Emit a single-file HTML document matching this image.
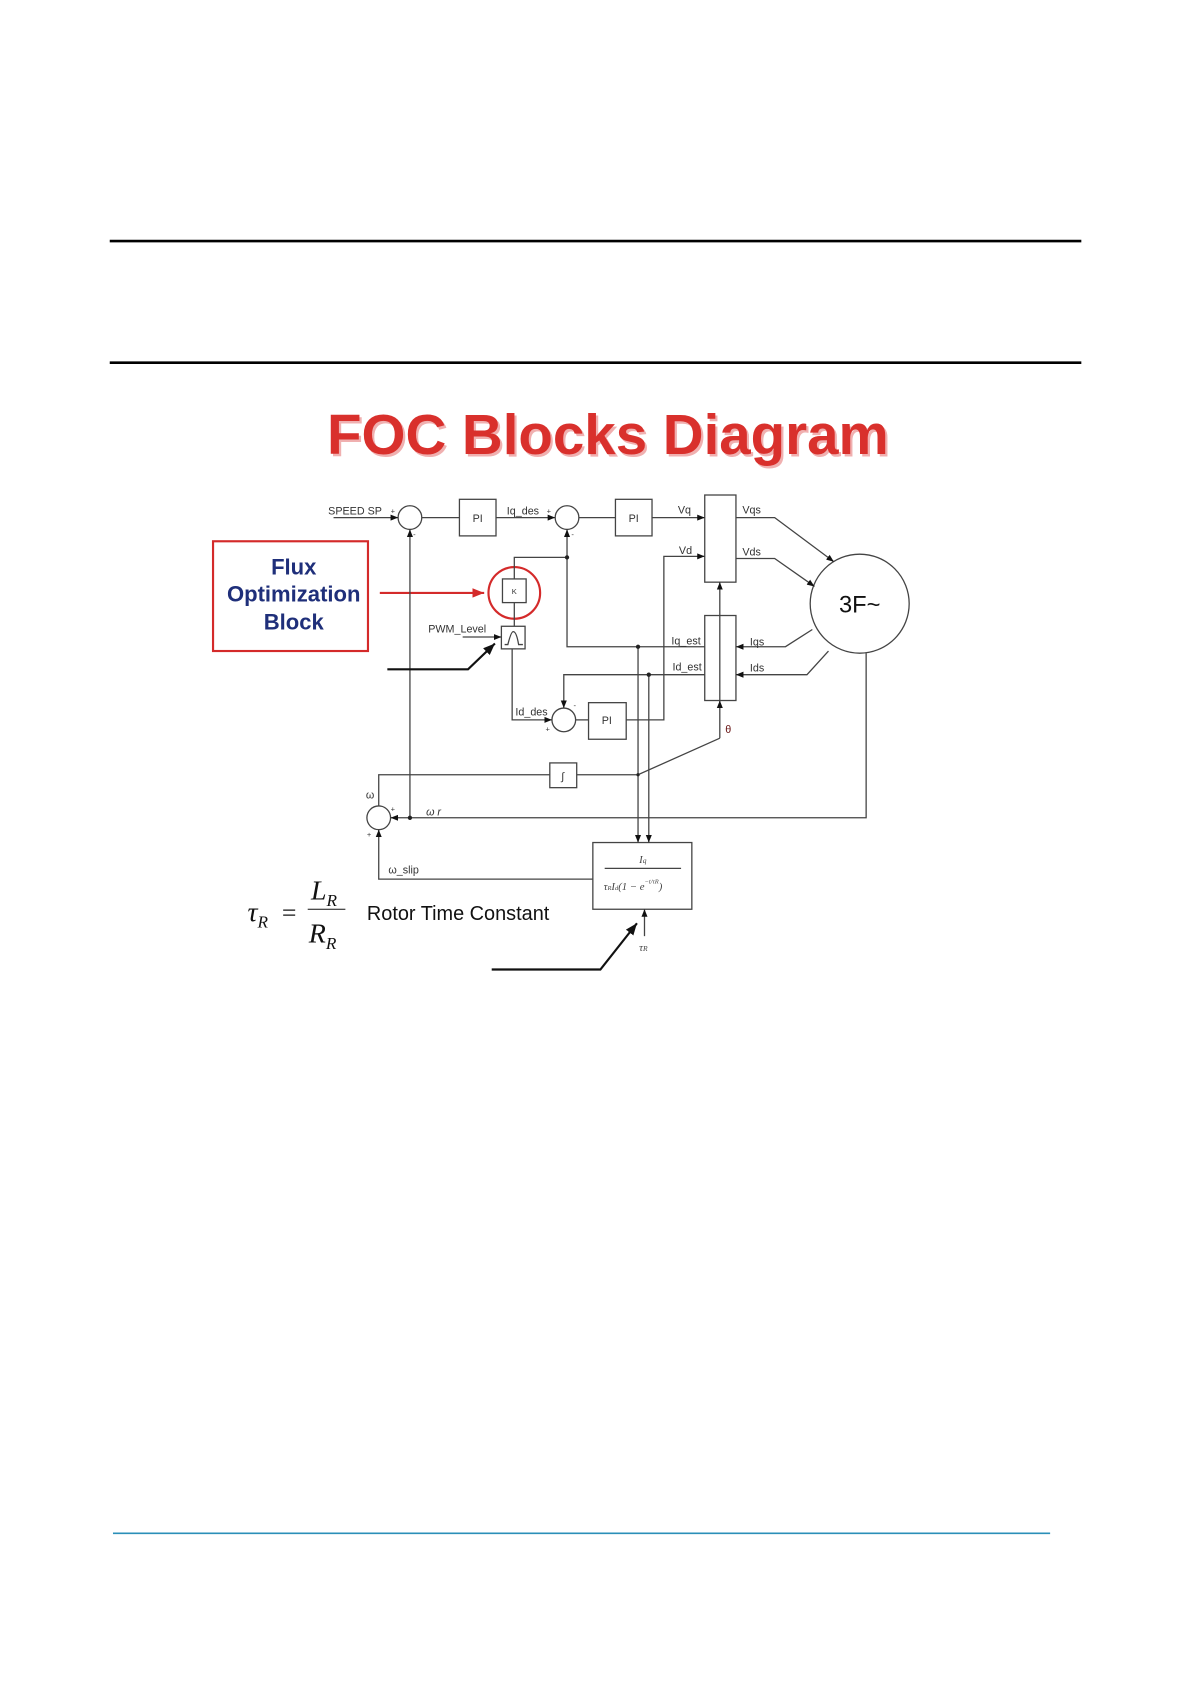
<!DOCTYPE html>
<html><head><meta charset="utf-8"><style>
html,body{margin:0;padding:0;background:#fff;}
svg{display:block;}
.s{font-family:"Liberation Sans",sans-serif;}
.m{font-family:"Liberation Serif",serif;font-style:italic;}
</style></head><body>
<svg width="1190" height="1684" viewBox="0 0 1106 1565" xmlns="http://www.w3.org/2000/svg">
<defs>
<marker id="a" viewBox="0 0 10 10" refX="10" refY="5" markerWidth="7" markerHeight="7" orient="auto-start-reverse" markerUnits="userSpaceOnUse"><path d="M0,1 L10,5 L0,9 z" fill="#111"/></marker>
<marker id="b" viewBox="0 0 10 10" refX="10" refY="5" markerWidth="11" markerHeight="11" orient="auto" markerUnits="userSpaceOnUse"><path d="M0,1 L10,5 L0,9 z" fill="#111"/></marker>
<marker id="r" viewBox="0 0 10 10" refX="10" refY="5" markerWidth="11" markerHeight="11" orient="auto" markerUnits="userSpaceOnUse"><path d="M0,1 L10,5 L0,9 z" fill="#d42a2a"/></marker>
</defs>
<line x1="102" y1="224" x2="1005" y2="224" stroke="#000" stroke-width="2.5"/>
<line x1="102" y1="337" x2="1005" y2="337" stroke="#000" stroke-width="2.5"/>
<g class="s" font-size="52.5" font-weight="bold" text-anchor="middle">
<text x="567" y="424" fill="#f0b0b0">FOC Blocks Diagram</text>
<text x="565" y="422" fill="#d9302c">FOC Blocks Diagram</text></g>
<line x1="105" y1="1425" x2="976" y2="1425" stroke="#2a8fb8" stroke-width="1.5"/>

<rect x="198" y="503" width="144" height="102" fill="none" stroke="#d42a2a" stroke-width="2"/>
<g class="s" font-size="20.5" font-weight="bold" fill="#1f2f7a" text-anchor="middle">
<text x="273" y="534">Flux</text><text x="273" y="559">Optimization</text><text x="273" y="585">Block</text></g>
<line x1="353" y1="551" x2="450" y2="551" stroke="#d42a2a" stroke-width="2" marker-end="url(#r)"/>
<circle cx="478" cy="551" r="24" fill="none" stroke="#d42a2a" stroke-width="2"/>

<g fill="none" stroke="#444" stroke-width="1.2">
<circle cx="381" cy="481" r="11"/><circle cx="527" cy="481" r="11"/>
<circle cx="524" cy="669" r="11"/><circle cx="352" cy="760" r="11"/>
<rect x="427" y="464" width="34" height="34"/><rect x="572" y="464" width="34" height="34"/>
<rect x="547" y="653" width="35" height="34"/>
<rect x="655" y="460" width="29" height="81"/><rect x="655" y="572" width="29" height="79"/>
<rect x="467" y="538" width="22" height="22"/><rect x="466" y="582" width="22" height="21"/>
<path d="M469,599 L472,599 Q475,587 477,587 Q480,587 482,599 L486,599"/>
<rect x="511" y="709" width="25" height="23"/>
<rect x="551" y="783" width="92" height="62"/>
<circle cx="799" cy="561" r="46"/>
<line x1="310" y1="481" x2="370" y2="481" marker-end="url(#a)"/>
<line x1="392" y1="481" x2="427" y2="481"/>
<line x1="461" y1="481" x2="516" y2="481" marker-end="url(#a)"/>
<line x1="538" y1="481" x2="572" y2="481"/>
<line x1="606" y1="481" x2="655" y2="481" marker-end="url(#a)"/>
<polyline points="582,669 617,669 617,517 655,517" marker-end="url(#a)"/>
<polyline points="684,481 720,481 775,522" marker-end="url(#a)"/>
<polyline points="684,519 720,519 757,545" marker-end="url(#a)"/>
<polyline points="755,585 730,601 684,601" marker-end="url(#a)"/>
<polyline points="770,605 750,627 684,627" marker-end="url(#a)"/>
<polyline points="478,538 478,518 527,518"/>
<polyline points="655,601 527,601 527,492" marker-end="url(#a)"/>
<line x1="478" y1="560" x2="478" y2="582"/>
<polyline points="655,627 524,627 524,658" marker-end="url(#a)"/>
<polyline points="476,603 476,669 513,669" marker-end="url(#a)"/>
<line x1="535" y1="669" x2="547" y2="669"/>
<line x1="430" y1="592" x2="466" y2="592" marker-end="url(#a)"/>
<line x1="593" y1="601" x2="593" y2="783" marker-end="url(#a)"/>
<line x1="603" y1="627" x2="603" y2="783" marker-end="url(#a)"/>
<line x1="669" y1="686" x2="669" y2="651" marker-end="url(#a)"/>
<line x1="669" y1="651" x2="669" y2="541" marker-end="url(#a)"/>
<polyline points="669,686 593,720 536,720"/>
<polyline points="511,720 352,720 352,749"/>
<polyline points="805,607 805,760 363,760" marker-end="url(#a)"/>
<line x1="381" y1="760" x2="381" y2="492" marker-end="url(#a)"/>
<polyline points="551,817 352,817 352,771" marker-end="url(#a)"/>
<line x1="599" y1="870" x2="599" y2="845" marker-end="url(#a)"/>
<line x1="562" y1="807" x2="633" y2="807"/>
</g>
<g fill="#222">
<circle cx="527" cy="518" r="2"/><circle cx="593" cy="601" r="2"/><circle cx="603" cy="627" r="2"/><circle cx="381" cy="760" r="2"/><circle cx="593" cy="720" r="1.5"/>
</g>
<polyline points="360,622 435,622 460,598" fill="none" stroke="#111" stroke-width="2" marker-end="url(#b)"/>
<polyline points="457,901 558,901 592,858" fill="none" stroke="#111" stroke-width="2" marker-end="url(#b)"/>

<g class="s" font-size="10" fill="#333">
<text x="305" y="478">SPEED SP</text><text x="363" y="477" font-size="7">+</text><text x="384" y="499" font-size="7">-</text>
<text x="444" y="485" text-anchor="middle">PI</text><text x="589" y="485" text-anchor="middle">PI</text><text x="564" y="673" text-anchor="middle">PI</text>
<text x="471" y="478">Iq_des</text><text x="508" y="477" font-size="7">+</text><text x="531" y="499" font-size="7">-</text>
<text x="630" y="477">Vq</text><text x="631" y="515">Vd</text>
<text x="690" y="477">Vqs</text><text x="690" y="516">Vds</text>
<text x="697" y="600">Iqs</text><text x="697" y="624">Ids</text>
<text x="624" y="599">Iq_est</text><text x="625" y="623">Id_est</text>
<text x="398" y="588">PWM_Level</text>
<text x="478" y="552" font-size="7" text-anchor="middle">K</text>
<text x="479" y="665">Id_des</text><text x="533" y="658" font-size="7">-</text><text x="507" y="680" font-size="7">+</text>
<text x="523" y="725" text-anchor="middle">∫</text>
<text x="674" y="681" fill="#611">θ</text>
<text x="340" y="742">ω</text><text x="363" y="754" font-size="7">+</text><text x="341" y="778" font-size="7">+</text>
<text x="396" y="758" font-style="italic">ω r</text>
<text x="361" y="812">ω_slip</text>
</g>
<g class="m" fill="#444" font-size="10">
<text x="594" y="884">τ<tspan font-size="7">R</tspan></text>
<text x="594" y="802">I<tspan font-size="7">q</tspan></text>
<text x="561" y="827">τ<tspan font-size="6">R</tspan>I<tspan font-size="6">d</tspan>(1 − e<tspan font-size="6" dy="-6">−t/τR</tspan><tspan dy="6">)</tspan></text>
</g>
<text class="s" x="799" y="569" font-size="22" text-anchor="middle" fill="#111">3F~</text>
<g class="m" fill="#111">
<text x="230" y="856" font-size="26">τ<tspan font-size="16" dy="6">R</tspan></text>
<text x="262" y="856" font-size="24" style="font-style:normal">=</text>
<text x="289" y="836" font-size="26">L<tspan font-size="16" dy="6">R</tspan></text>
<text x="287" y="876" font-size="26">R<tspan font-size="16" dy="6">R</tspan></text>
</g>
<line x1="286" y1="845" x2="321" y2="845" stroke="#111" stroke-width="1"/>
<text class="s" x="341" y="855" font-size="18.5" fill="#111">Rotor Time Constant</text>
</svg>
</body></html>
